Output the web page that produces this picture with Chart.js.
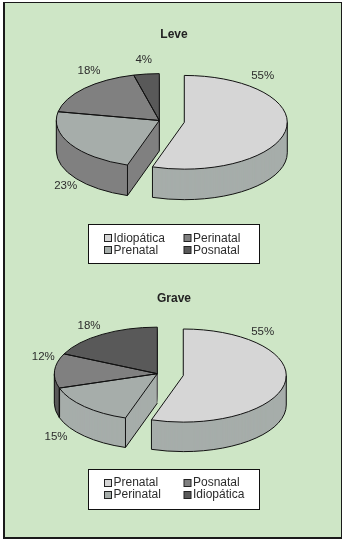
<!DOCTYPE html>
<html>
<head>
<meta charset="utf-8">
<script src="https://cdn.jsdelivr.net/npm/chart.js@4/dist/chart.umd.js"></script>
<style>
html,body{margin:0;padding:0;background:#fff;width:345px;height:542px;overflow:hidden}
#panel{position:absolute;left:3px;top:2px;width:336px;height:534px;background:#cee6c6;border-style:solid;border-color:#1a1a1a;border-width:1.5px 1.5px 2px 2.5px}
canvas{position:absolute;left:0;top:0}
</style>
</head>
<body>
<div id="panel"></div>
<div style="position:absolute;left:0;top:0;width:345px;height:271px"><canvas id="c1"></canvas></div>
<div style="position:absolute;left:0;top:271px;width:345px;height:271px"><canvas id="c2"></canvas></div>
<script>
const titleLeve = 'Leve';
const categoriesLeve = ['Idiopática', 'Prenatal', 'Perinatal', 'Posnatal'];
const valuesLeve = [55, 23, 18, 4];
const titleGrave = 'Grave';
const categoriesGrave = ['Prenatal', 'Perinatal', 'Posnatal', 'Idiopática'];
const valuesGrave = [55, 15, 12, 18];

const topColors = ['#d6d6d6', '#a6adaa', '#808080', '#595959'];
const sideColorsLeve = ['#a6adaa', '#808080', '#808080', '#595959'];
const sideColorsGrave = ['#a6adaa', '#a6adaa', '#595959', '#595959'];

const tiltLeve = {cx: 159.3, cy: 120.5, k: 0.455, depth: 30.5, explode: [25.3, 0, 0, 0], apexLine: true};
const tiltGrave = {cx: 157.3, cy: 102.7, k: 0.452, depth: 29.5, explode: [26.3, 0, 0, 0], apexLine: false};

const labelSpotsLeve = [[262.7, 76], [65.7, 186], [89, 70.7], [143.7, 60]];
const labelSpotsGrave = [[262.7, 61], [56, 165.7], [43.3, 86], [89, 55]];
const legendBoxLeve = {x: 88.5, y: 224.5, w: 171, h: 39, r1: 13.7, r2: 25.7};
const legendBoxGrave = {x: 88.5, y: 198.5, w: 171, h: 40, r1: 13, r2: 25.3};

const FONT = '"Liberation Sans", Arial, sans-serif';
const INK = '#111';

class TiltPie extends Chart.DoughnutController {
  draw() {
    const ctx = this.chart.ctx;
    const ds = this.getDataset();
    const t = ds.tilt;
    const sides = ds.sideColors;
    const arcs = this.getMeta().data;
    const shiftOf = (i) => {
      const a = arcs[i], mid = (a.startAngle + a.endAngle) / 2, e = t.explode[i] || 0;
      return {x: Math.cos(mid) * e, y: Math.sin(mid) * e};
    };
    // maps a point of the flat pie to the screen
    const P = (i, ang, r, down) => {
      const s = shiftOf(i);
      return [t.cx + s.x + Math.cos(ang) * r, t.cy + (s.y + Math.sin(ang) * r) * t.k + down];
    };
    const wedge = (i, a, down) => {
      const s = shiftOf(i);
      ctx.save();
      ctx.translate(t.cx, t.cy + down);
      ctx.scale(1, t.k);
      ctx.beginPath();
      ctx.moveTo(s.x, s.y);
      ctx.arc(s.x, s.y, a.outerRadius, a.startAngle, a.endAngle);
      ctx.closePath();
      ctx.restore();
    };
    // extruded sides, deepest layer first
    for (let d = t.depth; d >= 1; d -= 1) {
      arcs.forEach((a, i) => {
        wedge(i, a, d);
        ctx.fillStyle = sides[i];
        ctx.fill();
      });
    }
    // the slice tops, drawn by the library's arc elements
    arcs.forEach((a) => {
      ctx.save();
      ctx.translate(t.cx, t.cy);
      ctx.scale(1, t.k);
      ctx.translate(-a.x, -a.y);
      const i = arcs.indexOf(a), s = shiftOf(i);
      ctx.translate(s.x, s.y);
      a.draw(ctx);
      ctx.restore();
    });
    // outlines
    ctx.strokeStyle = INK;
    ctx.lineWidth = 1;
    const line = (p, q) => { ctx.beginPath(); ctx.moveTo(p[0], p[1]); ctx.lineTo(q[0], q[1]); ctx.stroke(); };
    arcs.forEach((a, i) => {
      const r = a.outerRadius;
      [0, Math.PI * 2].forEach((base) => {
        const from = Math.max(a.startAngle, base), to = Math.min(a.endAngle, base + Math.PI);
        if (to <= from) return;
        ctx.save();
        ctx.translate(t.cx, t.cy + t.depth);
        ctx.scale(1, t.k);
        const s = shiftOf(i);
        ctx.beginPath();
        ctx.arc(s.x, s.y, r, from, to);
        ctx.restore();
        ctx.stroke();
        line(P(i, from, r, 0), P(i, from, r, t.depth));
        line(P(i, to, r, 0), P(i, to, r, t.depth));
      });
      const prev = i > 0 ? (t.explode[i - 1] || 0) : 0;
      if (prev > 0 && !(t.explode[i] > 0)) {
        line(P(i, a.startAngle, 0, t.depth), P(i, a.startAngle, r, t.depth));
        if (t.apexLine) line(P(i, 0, 0, 0), P(i, 0, 0, t.depth));
      }
    });
    arcs.forEach((a, i) => {
      wedge(i, a, 0);
      ctx.stroke();
    });
  }
}
TiltPie.id = 'tiltPie';
TiltPie.defaults = Chart.DoughnutController.defaults;
Chart.register(TiltPie);

const annotate = {
  id: 'annotate',
  afterDraw(chart, args, o) {
    const ctx = chart.ctx;
    const ds = chart.data.datasets[0];
    ctx.save();
    ctx.font = '11.5px ' + FONT;
    ctx.fillStyle = '#2c2c2c';
    ctx.textAlign = 'center';
    ctx.textBaseline = 'middle';
    ds.data.forEach((v, i) => ctx.fillText(v + '%', o.spots[i][0], o.spots[i][1]));
    const b = o.box;
    ctx.fillStyle = '#fff';
    ctx.fillRect(b.x, b.y, b.w, b.h);
    ctx.strokeStyle = INK;
    ctx.lineWidth = 1;
    ctx.strokeRect(b.x, b.y, b.w, b.h);
    ctx.font = '12px ' + FONT;
    ctx.textAlign = 'left';
    const colX = [b.x + 16, b.x + 95.5];
    chart.data.labels.forEach((name, i) => {
      const x = colX[i >> 1];
      const y = b.y + (i % 2 ? b.r2 : b.r1);
      ctx.fillStyle = ds.backgroundColor[i];
      ctx.fillRect(x, Math.round(y - 4) + .5, 7, 7);
      ctx.strokeStyle = '#222';
      ctx.strokeRect(x, Math.round(y - 4) + .5, 7, 7);
      ctx.fillStyle = '#2c2c2c';
      ctx.fillText(name, x + 9, y);
    });
    ctx.restore();
  }
};

function make(id, title, titleTop, labels, values, sideColors, tilt, spots, box) {
  new Chart(document.getElementById(id), {
    type: 'tiltPie',
    data: {
      labels,
      datasets: [{
        data: values,
        backgroundColor: topColors,
        borderWidth: 0,
        sideColors,
        tilt,
        clip: false
      }]
    },
    options: {
      responsive: false,
      animation: false,
      cutout: 0,
      radius: 103,
      layout: {padding: {left: 3}},
      plugins: {
        legend: {display: false},
        tooltip: {enabled: false},
        title: {
          display: true,
          text: title,
          color: '#222',
          font: {family: FONT, size: 12, weight: 'bold'},
          padding: {top: titleTop, bottom: 4}
        },
        annotate: {spots, box}
      }
    },
    plugins: [annotate]
  });
}
const sizeCanvas = (id) => { const c = document.getElementById(id); c.width = 345; c.height = 271; };
sizeCanvas('c1'); sizeCanvas('c2');
make('c1', titleLeve, 27.8, categoriesLeve, valuesLeve, sideColorsLeve, tiltLeve, labelSpotsLeve, legendBoxLeve);
make('c2', titleGrave, 20.8, categoriesGrave, valuesGrave, sideColorsGrave, tiltGrave, labelSpotsGrave, legendBoxGrave);
</script>
</body>
</html>
